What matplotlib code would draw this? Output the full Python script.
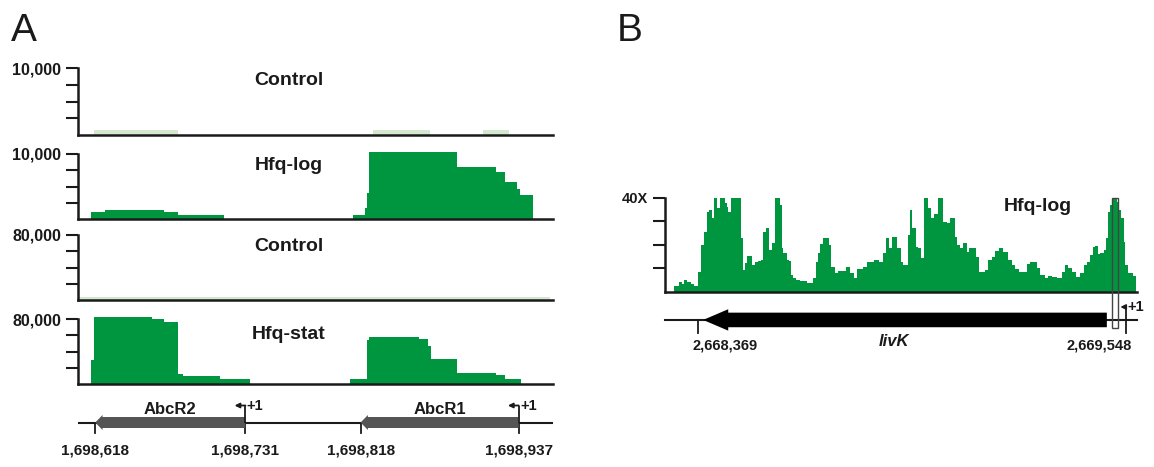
import matplotlib
matplotlib.use("Agg")
import matplotlib.pyplot as plt
from matplotlib.patches import Polygon, Rectangle

plt.rcParams["font.family"] = ["Liberation Sans", "DejaVu Sans"]

GREEN = "#00963f"
PALE = "#d3e8cf"
GENE_GRAY = "#555555"
INK = "#1a1a1a"

W, H = 1154, 467

# ---- panel A: AbcR1/AbcR2 locus -------------------------------------------
a_xlim = (1698605, 1698963)
a_ticks = [1698618, 1698731, 1698818, 1698937]
a_tick_labels = ["1,698,618", "1,698,731", "1,698,818", "1,698,937"]
abcr_names = ["AbcR2", "AbcR1"]
abcr_tip = [1698618, 1698818]      # 3' end (arrow points left)
abcr_tss = [1698731, 1698937]      # +1

track_names = ["Control", "Hfq-log", "Control", "Hfq-stat"]
track_max = [10000, 10000, 80000, 80000]
track_max_labels = ["10,000", "10,000", "80,000", "80,000"]

ctrl_log_edges = [1698617, 1698680, 1698827, 1698870, 1698910, 1698930]
ctrl_log_reads = [750, 0, 750, 0, 750]

hfq_log_edges = [1698615, 1698625, 1698670, 1698680, 1698715, 1698812, 1698821,
                 1698823, 1698824, 1698891, 1698920, 1698927, 1698936, 1698938, 1698948]
hfq_log_reads = [1070, 1430, 1070, 660, 0, 660, 1680, 4000, 10250, 8060, 7240,
                 5660, 4640, 3720]

ctrl_stat_edges = [1698606, 1698961]
ctrl_stat_reads = [3800]

hfq_stat_edges = [1698615, 1698617, 1698661, 1698670, 1698680, 1698684, 1698712,
                  1698735, 1698810, 1698823, 1698824, 1698862, 1698869, 1698871,
                  1698891, 1698920, 1698927, 1698939]
hfq_stat_reads = [29800, 82900, 80000, 75900, 12700, 10200, 6100, 0, 6100, 54300,
                  58400, 55500, 46900, 30600, 13500, 11400, 6500]

# ---- panel B: livK -----------------------------------------------------------
livk_ref = 2668369
b_xlim = (2668279, 2669578)
b_ticks = [2668369, 2669548]
b_tick_labels = ["2,668,369", "2,669,548"]
livk_cds = (2668384, 2669495)
livk_tss = 2669548
hfq_site = (2669510, 2669526)

# bp offsets from 2,668,369 and coverage (X) of each step
livk_offsets = [-65, -51, -42, -37, -29, -18, -9, 2, 8, 17, 25, 32, 38, 45, 53, 60,
                75, 80, 84, 92, 118, 124, 130, 137, 149, 158, 167, 174, 181, 187,
                196, 205, 213, 227, 231, 236, 245, 250, 257, 263, 270, 282, 300,
                318, 325, 330, 337, 346, 360, 366, 378, 387, 407, 419, 430, 438,
                456, 465, 484, 499, 511, 518, 527, 536, 548, 560, 566, 578, 584,
                591, 600, 607, 615, 624, 635, 642, 651, 661, 676, 685, 695, 707,
                713, 722, 731, 740, 747, 759, 765, 773, 791, 800, 809, 818, 828,
                839, 855, 864, 874, 883, 906, 915, 933, 942, 956, 965, 974, 988,
                1002, 1011, 1020, 1030, 1041, 1052, 1062, 1071, 1080, 1089, 1094,
                1101, 1108, 1117, 1123, 1129, 1135, 1141, 1153, 1160, 1165, 1172,
                1176, 1184, 1197, 1206]
livk_cov = [2.5, 4.3, 3.1, 5.0, 4.0, 3.4, 2.5, 8.5, 19.9, 25.5, 34, 34.8, 31.2, 40,
            35.5, 40, 37.6, 36, 34, 40, 22.7, 9.2, 12, 15.3, 11.3, 12.5, 13, 13.5,
            25.5, 27.2, 17.7, 20.6, 40, 36.9, 18.4, 16.3, 13.5, 13, 7.1, 5.7, 5.0,
            4.5, 3.5, 5.7, 12.8, 16.3, 20.1, 22.7, 19.9, 10.6, 7.8, 8.8, 10.6, 7.8,
            6.0, 9.6, 10.6, 12.5, 13.3, 12.5, 16.3, 22.7, 18.7, 23.4, 18.4, 12.8,
            11.3, 24.1, 34.8, 27, 19.1, 18.4, 14.2, 40, 35.5, 31.2, 32.9, 40, 29.8,
            29.1, 31.2, 23.4, 19.9, 18.4, 20.6, 17, 18.7, 18.4, 14.9, 8.2, 9.2,
            13.5, 14.9, 17.3, 18.7, 17, 13.5, 11.3, 9.5, 8.2, 11.6, 12.5, 10.2, 7.1,
            5.7, 6.8, 6.4, 5.7, 8.2, 11.3, 10.2, 8.2, 6.4, 7.8, 11.3, 12.5, 15.6,
            19.1, 19.6, 15.9, 16.3, 17.7, 22.7, 34, 36.9, 40, 38.3, 34.8, 31.2,
            21.3, 11.3, 7.8, 6.8]


def px_rect(left, top, right, bottom):
    return [left / W, 1 - bottom / H, (right - left) / W, (bottom - top) / H]


def left_arrow(ax, tip, tail, half_body, half_head, head_len, color, y0=0):
    pts = [(tip, y0), (tip + head_len, y0 + half_head), (tip + head_len, y0 + half_body),
           (tail, y0 + half_body), (tail, y0 - half_body), (tip + head_len, y0 - half_body),
           (tip + head_len, y0 - half_head)]
    ax.add_patch(Polygon(pts, closed=True, facecolor=color, edgecolor="none", zorder=3))


def tss_mark(ax, x, y0, h, length, label_dx):
    ax.plot([x, x], [y0, y0 + h], color=INK, lw=1.3, zorder=4, solid_capstyle="butt")
    ax.annotate("", xy=(x - length, y0 + h), xytext=(x + 0.2, y0 + h),
                arrowprops=dict(arrowstyle="-|>", color=INK, lw=1.3,
                                mutation_scale=7, shrinkA=0, shrinkB=0), zorder=4)
    ax.text(x + label_dx, y0 + h, "+1", fontsize=10.5, fontweight="bold",
            ha="left", va="center", color=INK)


fig = plt.figure(figsize=(W / 100, H / 100), dpi=100)
fig.patch.set_facecolor("white")

# ---- panel A tracks ----------------------------------------------------------
tracks = [
    (ctrl_log_edges, ctrl_log_reads, PALE, 68.3, 135.0, 0.82),
    (hfq_log_edges, hfq_log_reads, GREEN, 154.0, 219.3, 0.82),
    (ctrl_stat_edges, ctrl_stat_reads, PALE, 235.0, 300.0, 0.83),
    (hfq_stat_edges, hfq_stat_reads, GREEN, 319.0, 384.3, 0.77),
]
for i, (edges, reads, col, top_px, base_px, ty) in enumerate(tracks):
    ymax = track_max[i]
    head = 1.1
    ax = fig.add_axes(px_rect(78, base_px - (base_px - top_px) * head, 553, base_px))
    ax.set_xlim(*a_xlim)
    ax.set_ylim(0, ymax * head)
    ax.stairs(reads, edges, fill=True, color=col, lw=0)
    for s in ["top", "right"]:
        ax.spines[s].set_visible(False)
    ax.spines["left"].set_bounds(0, ymax)
    ax.spines["left"].set_linewidth(1.8)
    ax.spines["bottom"].set_linewidth(1.8)
    ax.spines["left"].set_color(INK)
    ax.spines["bottom"].set_color(INK)
    ax.set_xticks([])
    ax.set_yticks([ymax * 0.25, ymax * 0.5, ymax * 0.75, ymax])
    ax.set_yticklabels(["", "", "", track_max_labels[i]], fontsize=11.5,
                       fontweight="bold", color=INK)
    ax.tick_params(axis="y", length=8.5, width=1.5, pad=3.5, color=INK)
    ax.patch.set_alpha(0)
    ax.text(1698764, ymax * ty, track_names[i], fontsize=14, fontweight="bold",
            ha="center", va="center", color=INK)

# ---- panel A gene map --------------------------------------------------------
gax = fig.add_axes(px_rect(78, 395, 553, 460))
gax.set_xlim(*a_xlim)
gax.set_ylim(-37.5, 27.5)
gax.axis("off")
gax.axhline(0, color=INK, lw=1.5, zorder=2)
for name, tip, tss in zip(abcr_names, abcr_tip, abcr_tss):
    left_arrow(gax, tip, tss, 5.5, 7.5, 5.5, GENE_GRAY)
    gax.text((tip + tss) / 2, 12.5, name, fontsize=12, fontweight="bold",
             ha="center", va="center", color=INK)
    tss_mark(gax, tss, 0, 17, 8, 1.2)
for pos, lab in zip(a_ticks, a_tick_labels):
    gax.plot([pos, pos], [0, -10.5], color=INK, lw=1.3, zorder=2)
    gax.text(pos, -28, lab, fontsize=11, fontweight="bold", ha="center",
             va="center", color=INK)

# ---- panel B -----------------------------------------------------------------
unit = 2.353  # px per X
bax = fig.add_axes(px_rect(665, 291.7 - 42 * unit, 1137, 291.7 + 26 * unit))
bax.set_xlim(*b_xlim)
bax.set_ylim(-26, 42)
livk_edges = [livk_ref + o for o in livk_offsets]
bax.stairs(livk_cov, livk_edges, fill=True, color=GREEN, lw=0)
for s in ["top", "right"]:
    bax.spines[s].set_visible(False)
bax.spines["bottom"].set_position(("data", 0))
bax.spines["bottom"].set_linewidth(1.8)
bax.spines["left"].set_bounds(0, 40)
bax.spines["left"].set_linewidth(1.8)
bax.spines["left"].set_color(INK)
bax.spines["bottom"].set_color(INK)
bax.set_xticks([])
bax.set_yticks([10, 20, 30, 40])
bax.set_yticklabels(["", "", "", "40X"], fontsize=10.5, fontweight="bold", color=INK)
bax.tick_params(axis="y", length=8.5, width=1.5, pad=3.5, color=INK)
bax.patch.set_alpha(0)
bax.text(livk_ref + 937, 36.2, "Hfq-log", fontsize=14, fontweight="bold",
         ha="center", va="center", color=INK)

gene_y = -12
bax.plot(b_xlim, [gene_y, gene_y], color=INK, lw=1.5, zorder=2, clip_on=False)
left_arrow(bax, livk_cds[0], livk_cds[1], 3.1, 4.55, 69, "black", y0=gene_y)
bax.text(livk_ref + 540, -21, "livK", fontsize=12, fontweight="bold",
         fontstyle="italic", ha="center", va="center", color=INK)
for pos in b_ticks:
    bax.plot([pos, pos], [gene_y, gene_y - 5.5], color=INK, lw=1.3, zorder=2)
bax.text(b_ticks[0] - 13, -23, b_tick_labels[0], fontsize=10.5, fontweight="bold",
         ha="left", va="center", color=INK)
bax.text(b_ticks[1] + 15, -23, b_tick_labels[1], fontsize=10.5, fontweight="bold",
         ha="right", va="center", color=INK)
tss_mark(bax, livk_tss, gene_y, 5.5, 16, 4)
bax.add_patch(Rectangle((hfq_site[0], -15.6), hfq_site[1] - hfq_site[0], 40 + 15.6,
                        facecolor="none", edgecolor="#444444", lw=1.0, zorder=5,
                        clip_on=False))

# panel letters
fig.text(11 / W, 1 - 13 / H, "A", fontsize=28, ha="left", va="top", color=INK)
fig.text(617 / W, 1 - 13 / H, "B", fontsize=28, ha="left", va="top", color=INK)

fig.savefig("out.png", dpi=100)
